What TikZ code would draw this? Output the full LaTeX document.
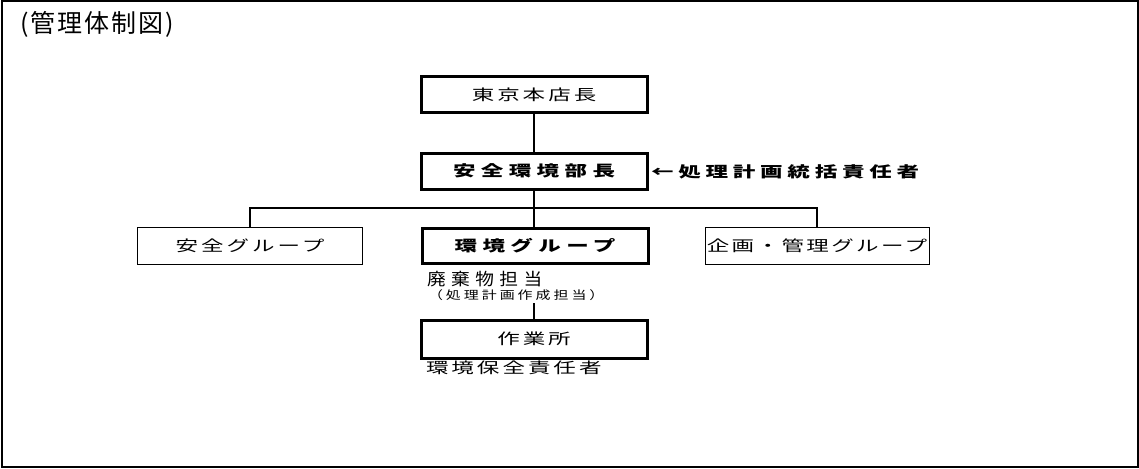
\documentclass[tikz,border=0pt]{standalone}
\usepackage{fontspec}
\setmainfont{Noto Sans CJK JP}
\newfontfamily\jpwide[FakeStretch=1.5,LetterSpace=20]{Noto Sans CJK JP}
\newfontfamily\jpbold[FakeStretch=1.5,LetterSpace=36]{Noto Sans CJK JP}
\begin{document}
\begin{tikzpicture}[x=1pt,y=-1pt]
\tikzstyle{every node}=[inner sep=0pt,outer sep=0pt];
\tikzstyle{heavybox}=[draw,line width=3pt,minimum width=226pt,minimum height=36pt,font=\jpwide\fontsize{15}{15}\selectfont];
\tikzstyle{lightbox}=[draw,line width=1pt,minimum width=225pt,minimum height=37pt,font=\jpwide\fontsize{15}{15}\selectfont];
\tikzstyle{boldtext}=[font=\jpbold\bfseries\fontsize{15}{15}\selectfont];
\tikzstyle{conn}=[line width=1.2pt];
\tikzstyle{note}=[anchor=west,font=\jpwide\fontsize{15}{15}\selectfont];
\useasboundingbox (0,0) rectangle (1139,468);
\draw[line width=2pt] (1.5,1.5) rectangle (1137.5,466.5);
% title
\node[anchor=west,font=\addfontfeature{LetterSpace=8}\fontsize{25}{25}\selectfont] (title) at (20,24) {(管理体制図)};
% boxes
\node[heavybox] (head) at (534,95) {東京本店長};
\node[heavybox,boldtext] (chief) at (534,171) {安全環境部長};
\node[lightbox] (safety) at (250,245.5) {安全グループ};
\node[heavybox,boldtext,minimum height=35pt] (env) at (535,245.5) {環境グループ};
\node[lightbox,minimum width=224pt] (plan) at (817,245.5) {\addfontfeature{LetterSpace=16}企画・管理グループ};
\node[heavybox,minimum height=38pt] (work) at (534,339) {作業所};
% notes
\node[note,boldtext,font=\jpbold\bfseries\addfontfeature{LetterSpace=32}\fontsize{15}{15}\selectfont] (lead) at (651,172) {←処理計画統括責任者};
\node[note,font=\jpwide\addfontfeature{FakeStretch=1.1,LetterSpace=32}\fontsize{17}{17}\selectfont] (waste) at (427,279) {廃棄物担当};
\node[note,font=\jpwide\addfontfeature{FakeStretch=1.3,LetterSpace=26}\fontsize{11.5}{11.5}\selectfont] (draft) at (428,295) {（処理計画作成担当）};
\node[note] (keeper) at (426,368) {環境保全責任者};
% lines
\coordinate (bus) at (534,208);
\draw[conn] (head) -- (chief);
\draw[conn] (chief) -- (bus);
\draw[conn] (safety.north) |- (bus) -| (plan.north);
\draw[conn] (bus) -- (env.north -| bus);
\draw[conn] (draft.south -| work.north) ++(0,3) -- (work.north);
\end{tikzpicture}
\end{document}
